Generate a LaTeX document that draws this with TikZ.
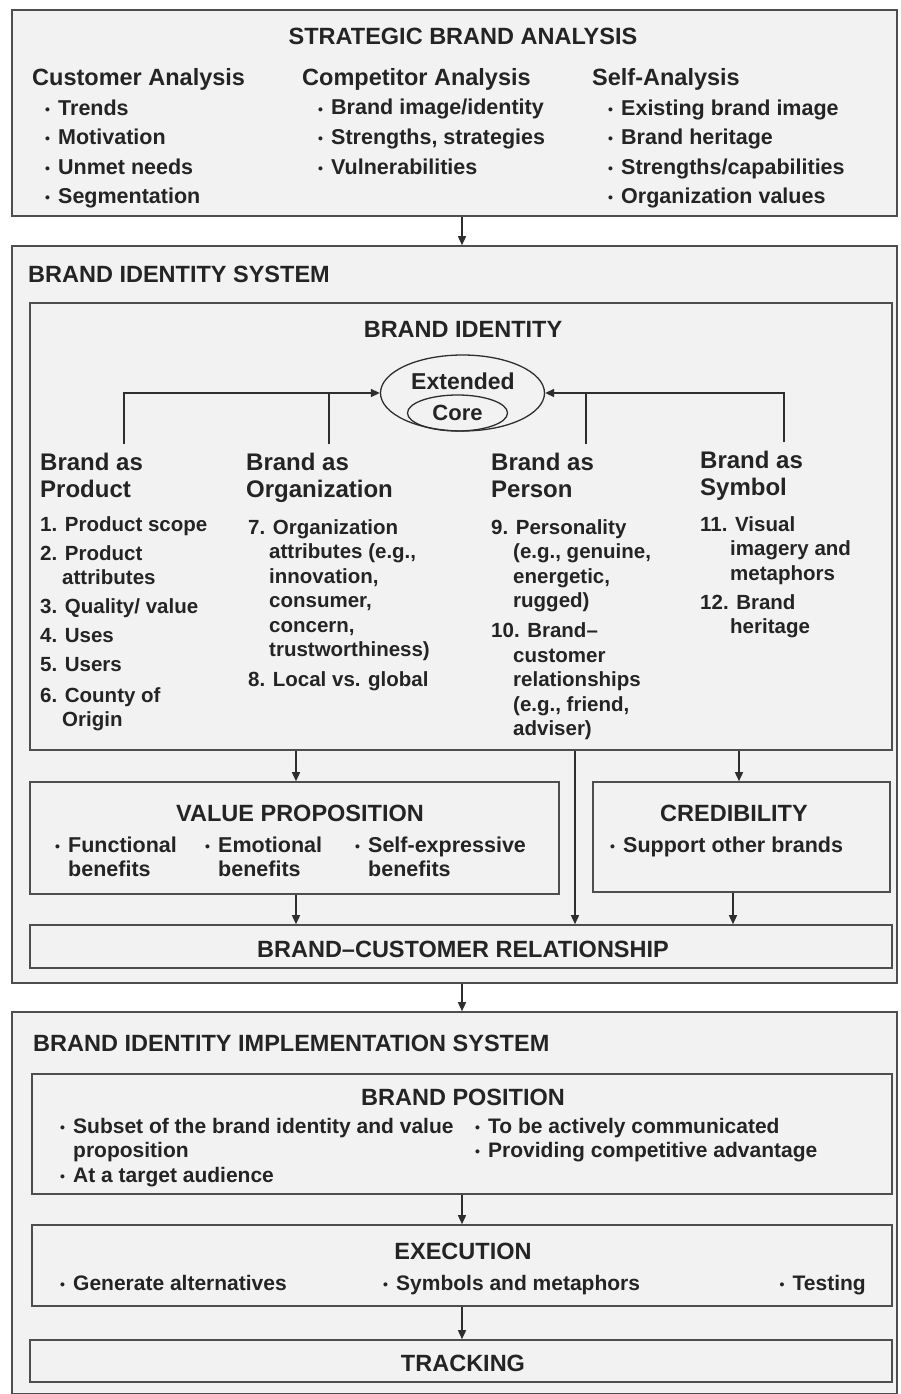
\documentclass[tikz,border=0pt]{standalone}
\usepackage{fontspec}
\setmainfont{Liberation Sans}
\usetikzlibrary{arrows.meta,shapes.geometric}
\definecolor{boxfill}{HTML}{F2F2F2}
\definecolor{bord}{HTML}{4E4E4E}
\definecolor{linec}{HTML}{2E2E2E}
\definecolor{txtc}{HTML}{242424}
\newcommand{\bul}{\makebox[13pt][l]{\raisebox{1pt}{\fontsize{14}{14}\selectfont\textbullet}}}
\begin{document}
\begin{tikzpicture}[x=1pt,y=-1pt,
  box/.style={draw=bord, line width=1.6pt, fill=boxfill, rectangle, inner sep=0pt},
  ell/.style={draw=linec, line width=1.3pt, ellipse, inner sep=0pt},
  arr/.style={draw=linec, line width=1.5pt, -{Triangle[length=9pt,width=8pt]}},
  ln/.style={draw=linec, line width=1.5pt},
  txt/.style={inner sep=0pt, text=txtc, align=left, font=\bfseries},
  ttl/.style={txt, font=\bfseries\fontsize{23.5}{27}\selectfont},
  sub/.style={txt, font=\bfseries\fontsize{23.5}{27}\selectfont},
  hdr/.style={txt, font=\bfseries\fontsize{24}{27}\selectfont},
  bl/.style={txt, font=\bfseries\fontsize{21.5}{29.5}\selectfont},
  bl2/.style={txt, font=\bfseries\fontsize{21}{24.5}\selectfont},
  vpb/.style={txt, font=\bfseries\fontsize{21.5}{24}\selectfont},
  it/.style={txt, font=\bfseries\fontsize{20.5}{24.5}\selectfont}]
\useasboundingbox[fill=white] (0,0) rectangle (900,1394);
% note: for multi-line nodes the base anchor is the baseline of the last line

% ---------- Strategic brand analysis ----------
\node[box, minimum width=885pt, minimum height=206pt] (sba) at (454.5,113) {};
\node[ttl, anchor=base] (sbat) at (463,45) {STRATEGIC BRAND ANALYSIS};
\node[sub, anchor=base west] (cah) at (32,86) {Customer Analysis};
\node[bl, anchor=base west] (cal) at (45,203.5) {\bul Trends\\\bul Motivation\\\bul Unmet needs\\\bul Segmentation};
\node[sub, anchor=base west] (coh) at (302,86) {Competitor Analysis};
\node[bl, anchor=base west] (col) at (318,174) {\bul Brand image/identity\\\bul Strengths, strategies\\\bul Vulnerabilities};
\node[sub, anchor=base west] (sah) at (592,86) {Self-Analysis};
\node[bl, anchor=base west] (sal) at (608,203.5) {\bul Existing brand image\\\bul Brand heritage\\\bul Strengths/capabilities\\\bul Organization values};

% ---------- Brand identity system ----------
\node[box, minimum width=885pt, minimum height=737pt] (bis) at (454.5,614.5) {};
\node[ttl, anchor=base west] (bist) at (28,282) {BRAND IDENTITY SYSTEM};
\node[box, minimum width=862pt, minimum height=447pt] (bi) at (461,526.5) {};
\node[ttl, anchor=base] (bit) at (463,337) {BRAND IDENTITY};
\node[ell, minimum width=164pt, minimum height=76pt] (ext) at (462.5,393) {};
\node[txt, font=\bfseries\fontsize{23}{26}\selectfont, anchor=base] (extl) at (463,389) {Extended};
\node[ell, minimum width=100pt, minimum height=36pt, text=txtc, font=\bfseries\fontsize{22}{24}\selectfont] (core) at (457.5,413) {Core};

\node[hdr, anchor=base west] (prod) at (40,497) {Brand as\\Product};
\node[hdr, anchor=base west] (org) at (246,497) {Brand as\\Organization};
\node[hdr, anchor=base west] (pers) at (491,497) {Brand as\\Person};
\node[hdr, anchor=base west] (sym) at (700,495) {Brand as\\Symbol};

\node[it, anchor=base west] (prodl) at (40,726.5) {1. Product scope\\[4.5pt]
2. Product\\\hspace*{22pt}attributes\\[4.5pt]
3. Quality/ value\\[4.5pt]
4. Uses\\[4.5pt]
5. Users\\[6pt]
6. County of\\\hspace*{22pt}Origin};
\node[it, anchor=base west] (orgl) at (248,686.5) {7. Organization\\\hspace*{21pt}attributes (e.g.,\\\hspace*{21pt}innovation,\\\hspace*{21pt}consumer,\\\hspace*{21pt}concern,\\\hspace*{21pt}trustworthiness)\\[5.5pt]
8. Local vs. global};
\node[it, anchor=base west] (persl) at (491,735.5) {9. Personality\\\hspace*{22pt}(e.g., genuine,\\\hspace*{22pt}energetic,\\\hspace*{22pt}rugged)\\[5.5pt]
10. Brand--\\\hspace*{22pt}customer\\\hspace*{22pt}relationships\\\hspace*{22pt}(e.g., friend,\\\hspace*{22pt}adviser)};
\node[it, anchor=base west] (syml) at (700,633.5) {11. Visual\\\hspace*{30pt}imagery and\\\hspace*{30pt}metaphors\\[4.5pt]
12. Brand\\\hspace*{30pt}heritage};

\draw[arr] ([yshift=8pt]prod.north -| 124,0) |- (ext.west);
\draw[ln] ([yshift=8pt]org.north -| 329,0) -- (329,0 |- ext.west);
\draw[arr] ([yshift=8pt]sym.north -| 784,0) |- (ext.east);
\draw[ln] ([yshift=8pt]pers.north -| 586,0) -- (586,0 |- ext.east);

\node[box, minimum width=529pt, minimum height=112pt] (vp) at (294.5,838) {};
\node[ttl, anchor=base] (vpt) at (300,821) {VALUE PROPOSITION};
\node[vpb, anchor=base west] (vp1) at (55,876) {\bul Functional\\\hspace*{13pt}benefits};
\node[vpb, anchor=base west] (vp2) at (205,876) {\bul Emotional\\\hspace*{13pt}benefits};
\node[vpb, anchor=base west] (vp3) at (355,876) {\bul Self-expressive\\\hspace*{13pt}benefits};

\node[box, minimum width=297pt, minimum height=110pt] (cr) at (741.5,837) {};
\node[ttl, anchor=base] (crt) at (734,821) {CREDIBILITY};
\node[vpb, anchor=base west] (cr1) at (610,852) {\bul Support other brands};

\node[box, minimum width=862pt, minimum height=43pt] (rel) at (461,946.5) {};
\node[ttl, anchor=base] (relt) at (463,957) {BRAND--CUSTOMER RELATIONSHIP};

\draw[arr] (296,0 |- bi.south) -- (296,0 |- vp.north);
\draw[arr] (739,0 |- bi.south) -- (739,0 |- cr.north);
\draw[arr] (575,0 |- bi.south) -- (575,0 |- rel.north);
\draw[arr] (296,0 |- vp.south) -- (296,0 |- rel.north);
\draw[arr] (733,0 |- cr.south) -- (733,0 |- rel.north);

% ---------- Implementation system ----------
\node[box, minimum width=885pt, minimum height=382pt] (bii) at (454.5,1203) {};
\node[ttl, anchor=base west] (biit) at (33,1051) {BRAND IDENTITY IMPLEMENTATION SYSTEM};

\node[box, minimum width=860pt, minimum height=120pt] (bp) at (462,1134) {};
\node[ttl, anchor=base] (bpt) at (463,1105) {BRAND POSITION};
\node[bl2, anchor=base west] (bp1) at (60,1182) {\bul Subset of the brand identity and value\\\hspace*{13pt}proposition\\\bul At a target audience};
\node[bl2, anchor=base west] (bp2) at (475,1157.5) {\bul To be actively communicated\\\bul Providing competitive advantage};

\node[box, minimum width=860pt, minimum height=81pt] (ex) at (462,1265.5) {};
\node[ttl, anchor=base] (ext2) at (463,1259) {EXECUTION};
\node[bl2, anchor=base west] (ex1) at (60,1290) {\bul Generate alternatives};
\node[bl2, anchor=base west] (ex2) at (383,1290) {\bul Symbols and metaphors};
\node[bl2, anchor=base east] (ex3) at (866,1290) {\bul Testing};

\node[box, minimum width=862pt, minimum height=42pt] (tr) at (461,1361) {};
\node[ttl, anchor=base] (trt) at (463,1371) {TRACKING};

\draw[arr] (462,0 |- sba.south) -- (462,0 |- bis.north);
\draw[arr] (462,0 |- bis.south) -- (462,0 |- bii.north);
\draw[arr] (462,0 |- bp.south) -- (462,0 |- ex.north);
\draw[arr] (462,0 |- ex.south) -- (462,0 |- tr.north);
\end{tikzpicture}
\end{document}
